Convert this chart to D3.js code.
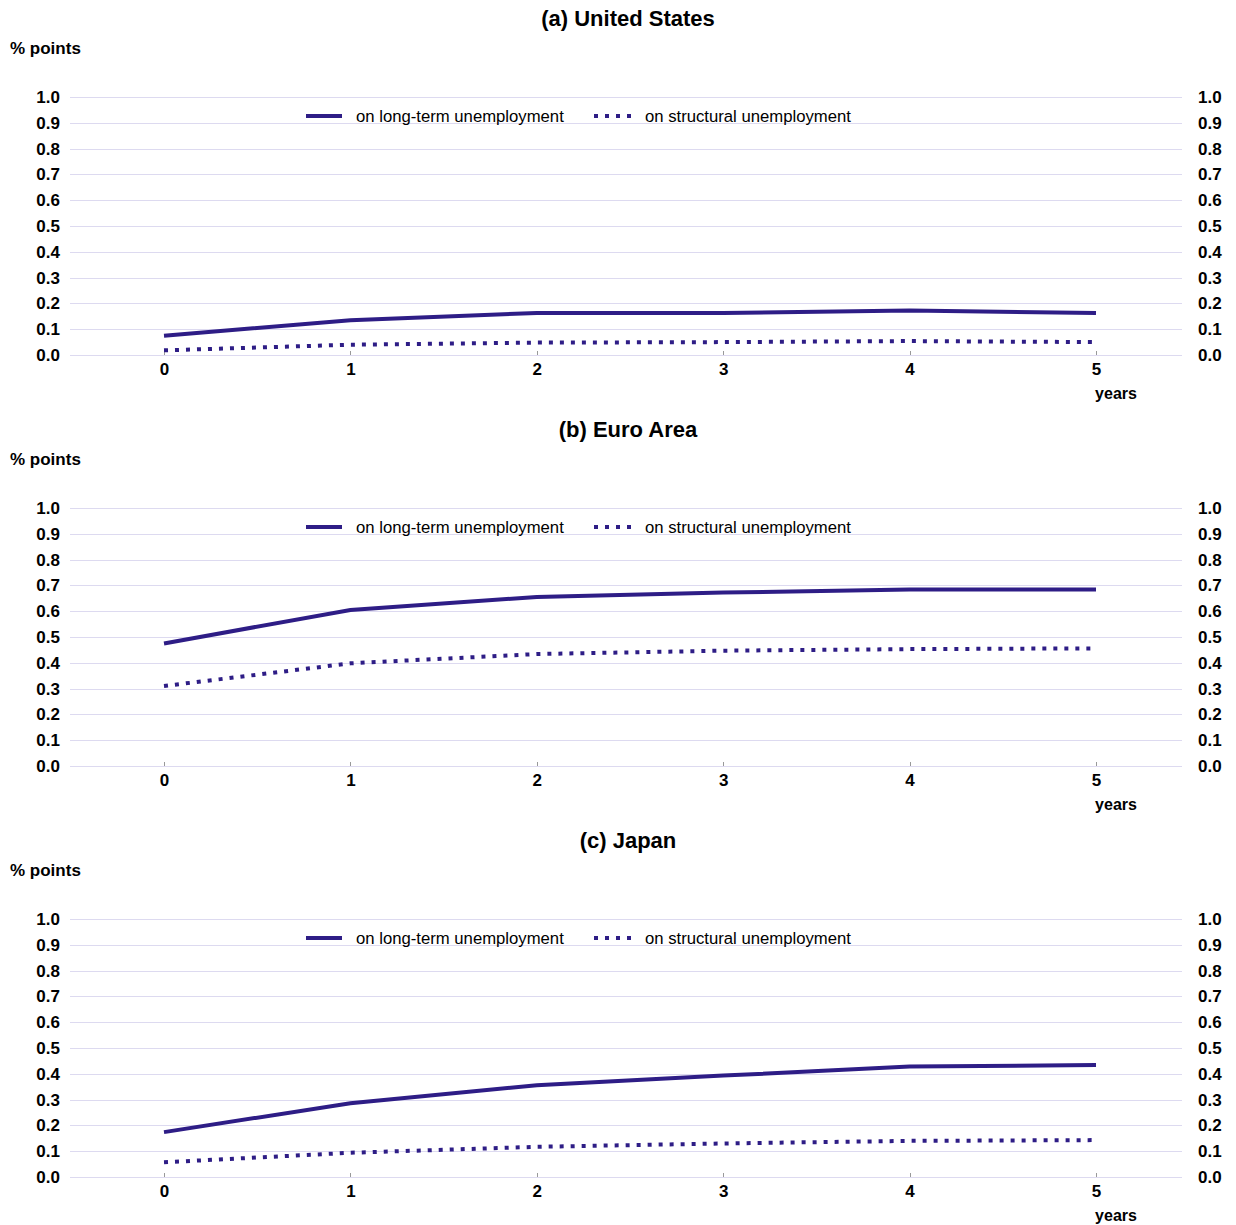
<!DOCTYPE html>
<html><head><meta charset="utf-8">
<script src="https://cdn.jsdelivr.net/npm/d3@7"></script>
<style>
html,body{margin:0;padding:0;background:#fff;}
text{font-family:"Liberation Sans",Arial,sans-serif;fill:#000;}
</style></head>
<body>
<svg id="chart" width="1236" height="1225"></svg>
<script>
const years = [0, 1, 2, 3, 4, 5];
const yTicks = [0, 0.1, 0.2, 0.3, 0.4, 0.5, 0.6, 0.7, 0.8, 0.9, 1.0];
const panelTitles = ["(a) United States", "(b) Euro Area", "(c) Japan"];
const seriesNames = ["on long-term unemployment", "on structural unemployment"];
const usLongTerm = [0.075, 0.135, 0.163, 0.163, 0.172, 0.163];
const usStructural = [0.018, 0.040, 0.048, 0.050, 0.054, 0.050];
const euLongTerm = [0.475, 0.605, 0.655, 0.672, 0.684, 0.684];
const euStructural = [0.310, 0.398, 0.434, 0.447, 0.453, 0.456];
const jpLongTerm = [0.174, 0.286, 0.356, 0.393, 0.428, 0.434];
const jpStructural = [0.057, 0.094, 0.117, 0.130, 0.140, 0.143];

const panels = [
  {title: panelTitles[0], lt: usLongTerm, st: usStructural},
  {title: panelTitles[1], lt: euLongTerm, st: euStructural},
  {title: panelTitles[2], lt: jpLongTerm, st: jpStructural}
];

const svg = d3.select("#chart");
const color = "#2e1d86";
const gridColor = "#dddaf0";
const x = d3.scaleLinear().domain([0, 5]).range([164, 1096]);
const gridL = 70, gridR = 1182;
const FONT = "'Liberation Sans',Arial,sans-serif";

panels.forEach((p, i) => {
  const off = i * 411;
  const g = svg.append("g").attr("transform", `translate(0,${off})`);
  const y = d3.scaleLinear().domain([0, 1]).range([355, 97]);

  g.append("text").attr("x", 628).attr("y", 26).attr("text-anchor", "middle")
    .style("font-size", "22px").style("font-weight", "bold").text(p.title);
  g.append("text").attr("x", 10).attr("y", 54)
    .style("font-size", "17px").style("font-weight", "bold").text("% points");

  g.selectAll("line.grid").data(yTicks).enter().append("line")
    .attr("x1", gridL).attr("x2", gridR)
    .attr("y1", d => Math.round(y(d)) + 0.5).attr("y2", d => Math.round(y(d)) + 0.5)
    .attr("stroke", gridColor).attr("stroke-width", 1.2);

  const left = d3.axisLeft(y).tickValues(yTicks).tickFormat(d3.format(".1f")).tickSize(0).tickPadding(0);
  const la = g.append("g").attr("transform", "translate(60,0)").call(left);
  la.select(".domain").remove();
  la.selectAll("text").style("font-size", "17px").style("font-weight", "bold")
    .style("font-family", FONT).attr("fill", "#000");

  const right = d3.axisRight(y).tickValues(yTicks).tickFormat(d3.format(".1f")).tickSize(0).tickPadding(0);
  const ra = g.append("g").attr("transform", "translate(1198,0)").call(right);
  ra.select(".domain").remove();
  ra.selectAll("text").style("font-size", "17px").style("font-weight", "bold")
    .style("font-family", FONT).attr("fill", "#000");

  const bottom = d3.axisBottom(x).tickValues(years).tickFormat(d3.format("d")).tickSize(0).tickPadding(8);
  const xa = g.append("g").attr("transform", `translate(0,${y(0)})`).call(bottom);
  xa.select(".domain").remove();
  xa.selectAll("text").style("font-size", "17px").style("font-weight", "bold")
    .style("font-family", FONT).attr("fill", "#000");
  g.selectAll("line.xt").data(years).enter().append("line")
    .attr("x1", d => Math.round(x(d)) + 0.5).attr("x2", d => Math.round(x(d)) + 0.5)
    .attr("y1", y(0)).attr("y2", y(0) - 4).attr("stroke", "#999").attr("stroke-width", 1);

  g.append("text").attr("x", 1116).attr("y", 399).attr("text-anchor", "middle")
    .style("font-size", "16px").style("font-weight", "bold").text("years");

  const line = d3.line().x((d, j) => x(years[j])).y(d => y(d));
  g.append("path").datum(p.lt).attr("d", line).attr("fill", "none")
    .attr("stroke", color).attr("stroke-width", 4);
  g.append("path").datum(p.st).attr("d", line).attr("fill", "none")
    .attr("stroke", color).attr("stroke-width", 4).attr("stroke-dasharray", "4,7");

  const ly = 116;
  g.append("line").attr("x1", 306).attr("x2", 342).attr("y1", ly).attr("y2", ly)
    .attr("stroke", color).attr("stroke-width", 4);
  g.append("text").attr("x", 356).attr("y", ly + 6).style("font-size", "16.7px").text(seriesNames[0]);
  g.append("line").attr("x1", 594).attr("x2", 632).attr("y1", ly).attr("y2", ly)
    .attr("stroke", color).attr("stroke-width", 4).attr("stroke-dasharray", "4,7");
  g.append("text").attr("x", 645).attr("y", ly + 6).style("font-size", "16.7px").text(seriesNames[1]);
});
</script>
</body></html>
